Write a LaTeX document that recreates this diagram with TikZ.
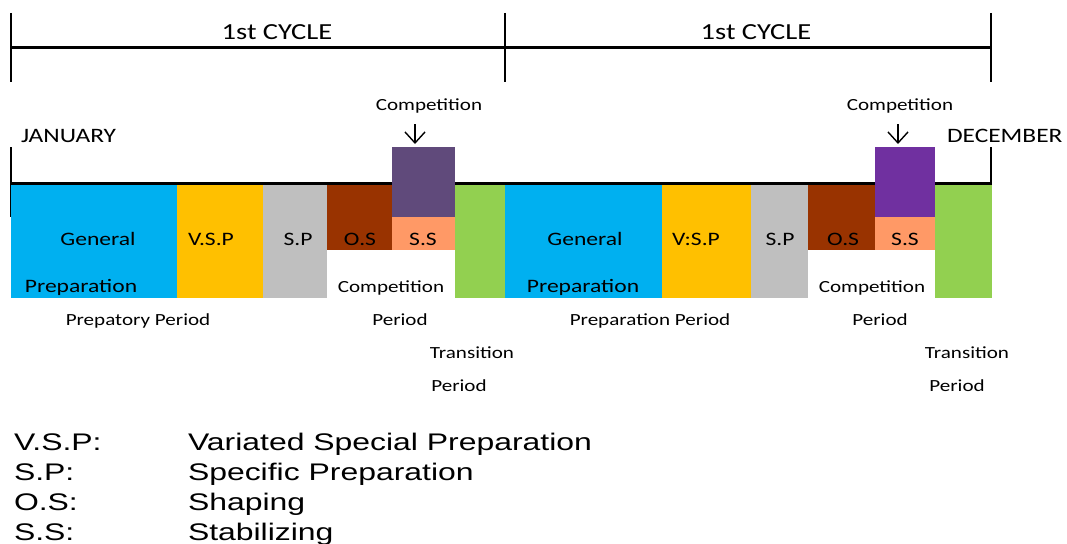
\documentclass[tikz,border=0pt]{standalone}
\usepackage{fontspec}
\usepackage{graphicx}
\usetikzlibrary{arrows.meta}
\newfontfamily\calib{Carlito}
\newfontfamily\arialish{Liberation Sans}
% horizontally widened text
\newcommand\wideC[1]{\scalebox{1.24}[1]{#1}}
\newcommand\wideA[1]{\scalebox{1.33}[1]{#1}}
\definecolor{cBlue}{HTML}{00B0F0}
\definecolor{cYellow}{HTML}{FFC000}
\definecolor{cGray}{HTML}{BFBFBF}
\definecolor{cBrown}{HTML}{993300}
\definecolor{cPurpleA}{HTML}{604A7B}
\definecolor{cPurpleB}{HTML}{7030A0}
\definecolor{cSalmon}{HTML}{FF9966}
\definecolor{cGreen}{HTML}{92D050}
\begin{document}
\begin{tikzpicture}[x=1pt,y=-1pt,
  blk/.style={draw=none,inner sep=0,outer sep=0,anchor=north west},
  rule/.style={line width=3pt},
  tickline/.style={line width=2.5pt},
  txt/.style={inner sep=0,outer sep=0,anchor=base},
  cyc/.style={txt,font=\calib\fontsize{23}{23}\selectfont},
  month/.style={txt,font=\calib\fontsize{20.5}{20.5}\selectfont},
  comp/.style={txt,font=\calib\fontsize{17}{17}\selectfont},
  inlbl/.style={txt,font=\calib\fontsize{19}{19}\selectfont},
  sublbl/.style={txt,font=\calib\fontsize{17}{17}\selectfont},
  legend/.style={inner sep=0,outer sep=0,anchor=base west,font=\arialish\fontsize{24}{24}\selectfont},
  compArrow/.style={line width=1.4pt,-{Straight Barb[length=11pt,width=20pt,line width=1.4pt]}}
]
\useasboundingbox (0,0) rectangle (1067,543);

% cycle bracket
\coordinate (cL) at (11,48);
\coordinate (cM) at (505,48);
\coordinate (cR) at (991,48);
\coordinate (cLt) at (11,13);  \coordinate (cLb) at (11,82);
\coordinate (cMt) at (505,13); \coordinate (cMb) at (505,82);
\coordinate (cRt) at (991,13); \coordinate (cRb) at (991,82);
\draw[rule] (cL) -- (cR);
\draw[tickline] (cLt) -- (cLb);
\draw[tickline] (cMt) -- (cMb);
\draw[tickline] (cRt) -- (cRb);
\node[cyc] (cyc1) at (277,40) {\wideC{1st CYCLE}};
\node[cyc] (cyc2) at (756,40) {\wideC{1st CYCLE}};

% year time line
\coordinate (tL) at (11,183);
\coordinate (tR) at (991,183);
\coordinate (tLt) at (11,147); \coordinate (tLb) at (11,217);
\coordinate (tRt) at (991,147); \coordinate (tRb) at (991,217);
\draw[rule] (tL) -- (tR);
\draw[tickline] (tLt) -- (tLb);
\draw[tickline] (tRt) -- (tRb);
\node[month,anchor=base west] (jan) at (21,142) {\wideC{JANUARY}};
\node[month,anchor=base west] (dec) at (947,142) {\wideC{DECEMBER}};

% first cycle blocks
\node[blk,fill=cBlue,minimum width=166,minimum height=113] (gp1) at (11,184.5) {};
\node[blk,fill=cYellow,minimum width=86,minimum height=113] (vsp1) at (177,184.5) {};
\node[blk,fill=cGray,minimum width=64,minimum height=113] (sp1) at (263,184.5) {};
\node[blk,fill=cBrown,minimum width=65,minimum height=65.5] (os1) at (327,184.5) {};
\node[blk,fill=cPurpleA,minimum width=63,minimum height=70] (cp1) at (392,147) {};
\node[blk,fill=cSalmon,minimum width=63,minimum height=33] (ss1) at (392,217) {};
\node[blk,fill=cGreen,minimum width=50,minimum height=113] (tr1) at (455,184.5) {};

% second cycle blocks
\node[blk,fill=cBlue,minimum width=157,minimum height=113] (gp2) at (505,184.5) {};
\node[blk,fill=cYellow,minimum width=89,minimum height=113] (vsp2) at (662,184.5) {};
\node[blk,fill=cGray,minimum width=57,minimum height=113] (sp2) at (751,184.5) {};
\node[blk,fill=cBrown,minimum width=67,minimum height=65.5] (os2) at (808,184.5) {};
\node[blk,fill=cPurpleB,minimum width=60,minimum height=70] (cp2) at (875,147) {};
\node[blk,fill=cSalmon,minimum width=60,minimum height=33] (ss2) at (875,217) {};
\node[blk,fill=cGreen,minimum width=57,minimum height=113] (tr2) at (935,184.5) {};

% competition markers
\node[comp] (ct1) at (429,110) {\wideC{Competition}};
\node[comp] (ct2) at (900,110) {\wideC{Competition}};
\coordinate (a1s) at (415,124); \coordinate (a1e) at (415,144);
\coordinate (a2s) at (898,124); \coordinate (a2e) at (898,144);
\draw[compArrow] (a1s) -- (a1e);
\draw[compArrow] (a2s) -- (a2e);

% labels inside blocks
\node[inlbl] (gen1) at (98,245) {\wideC{General}};
\node[inlbl] (prep1) at (81,292) {\wideC{Preparation}};
\node[inlbl] (lvsp1) at (211,245) {\wideC{V.S.P}};
\node[inlbl] (lsp1) at (298,245) {\wideC{S.P}};
\node[inlbl] (los1) at (360,245) {\wideC{O.S}};
\node[inlbl] (lss1) at (423,245) {\wideC{S.S}};
\node[sublbl] (cmp1) at (391,292) {\wideC{Competition}};

\node[inlbl] (gen2) at (585,245) {\wideC{General}};
\node[inlbl] (prep2) at (583,292) {\wideC{Preparation}};
\node[inlbl] (lvsp2) at (696,245) {\wideC{V:S.P}};
\node[inlbl] (lsp2) at (780,245) {\wideC{S.P}};
\node[inlbl] (los2) at (843,245) {\wideC{O.S}};
\node[inlbl] (lss2) at (905,245) {\wideC{S.S}};
\node[sublbl] (cmp2) at (872,292) {\wideC{Competition}};

% period captions
\node[sublbl] (pp1) at (138,325) {\wideC{Prepatory Period}};
\node[sublbl] (per1) at (400,325) {\wideC{Period}};
\node[sublbl] (trn1) at (472,358) {\wideC{Transition}};
\node[sublbl] (trp1) at (459,391) {\wideC{Period}};
\node[sublbl] (pp2) at (650,325) {\wideC{Preparation Period}};
\node[sublbl] (per2) at (880,325) {\wideC{Period}};
\node[sublbl] (trn2) at (967,358) {\wideC{Transition}};
\node[sublbl] (trp2) at (957,391) {\wideC{Period}};

% abbreviations
\node[legend] (k1) at (14,450) {\wideA{V.S.P:}};
\node[legend] (v1) at (188,450) {\wideA{Variated Special Preparation}};
\node[legend] (k2) at (14,480) {\wideA{S.P:}};
\node[legend] (v2) at (188,480) {\wideA{Specific Preparation}};
\node[legend] (k3) at (14,510) {\wideA{O.S:}};
\node[legend] (v3) at (188,510) {\wideA{Shaping}};
\node[legend] (k4) at (14,540) {\wideA{S.S:}};
\node[legend] (v4) at (188,540) {\wideA{Stabilizing}};
\end{tikzpicture}
\end{document}
